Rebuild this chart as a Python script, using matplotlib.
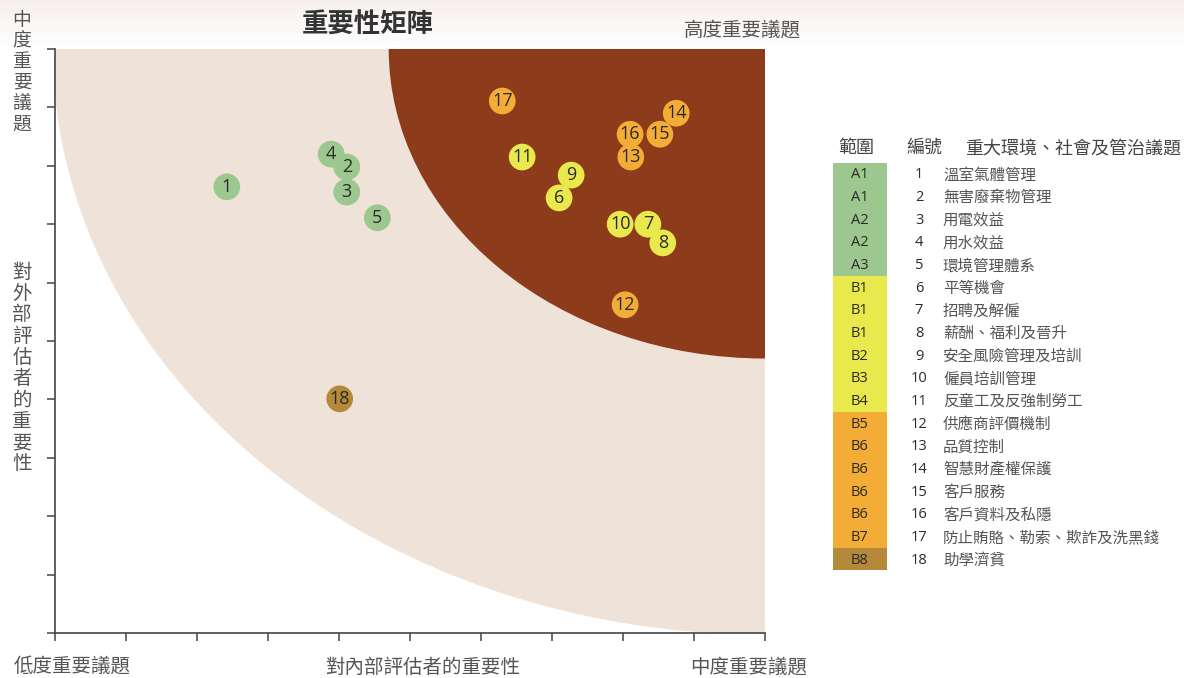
import matplotlib
matplotlib.use("Agg")
import matplotlib.pyplot as plt
from matplotlib.patches import Circle, Rectangle
import numpy as np

plt.rcParams['font.family'] = ['Noto Sans CJK TC', 'DejaVu Sans']

# ---- data ----
ids = [1, 2, 3, 4, 5, 6, 7, 8, 9, 10, 11, 12, 13, 14, 15, 16, 17, 18]
x_internal = [2.42, 4.11, 4.11, 3.89, 4.54, 7.10, 8.35, 8.56, 7.27, 7.96, 6.58, 8.03, 8.11, 8.75, 8.52, 8.10, 6.30, 4.01]
y_external = [7.64, 7.98, 7.55, 8.20, 7.11, 7.45, 7.00, 6.68, 7.84, 7.00, 8.15, 5.62, 8.15, 8.90, 8.54, 8.54, 9.11, 4.01]
scopes = ['A1', 'A1', 'A2', 'A2', 'A3', 'B1', 'B1', 'B1', 'B2', 'B3', 'B4',
          'B5', 'B6', 'B6', 'B6', 'B6', 'B7', 'B8']
groups = ['env', 'env', 'env', 'env', 'env', 'emp', 'emp', 'emp', 'emp', 'emp', 'emp',
          'op', 'op', 'op', 'op', 'op', 'op', 'com']
topics = ['溫室氣體管理', '無害廢棄物管理', '用電效益', '用水效益', '環境管理體系',
          '平等機會', '招聘及解僱', '薪酬、福利及晉升', '安全風險管理及培訓', '僱員培訓管理',
          '反童工及反強制勞工', '供應商評價機制', '品質控制', '智慧財產權保護', '客戶服務',
          '客戶資料及私隱', '防止賄賂、勒索、欺詐及洗黑錢', '助學濟貧']
headers = ['範圍', '編號', '重大環境、社會及管治議題']
title = '重要性矩陣'
x_label = '對內部評估者的重要性'
y_label = '對外部評估者的重要性'
low_label = '低度重要議題'
mid_label = '中度重要議題'
high_label = '高度重要議題'

group_colors = {'env': '#9cc78e', 'emp': '#e9e84c', 'op': '#f3ad37', 'com': '#b5893a'}
light_zone = '#efe3d9'
dark_zone = '#8c3b1b'

W, H = 1184, 678
fig = plt.figure(figsize=(W / 100, H / 100), dpi=100)
fig.patch.set_facecolor('white')

# faint top gradient
gax = fig.add_axes([0, 1 - 48 / H, 1, 48 / H], zorder=-5)
grad = np.linspace(0, 1, 60)[:, None]
top_col = np.array([246, 240, 237]) / 255
img = top_col[None, None, :] * (1 - grad[:, :, None]) + np.ones(3)[None, None, :] * grad[:, :, None]
img = np.repeat(img, 4, axis=1)
gax.imshow(img, aspect='auto', extent=[0, 1, 1, 0])
gax.axis('off')

# main axes
L, R, T, B = 55, 765, 49, 633
ax = fig.add_axes([L / W, 1 - B / H, (R - L) / W, (B - T) / H])
ax.set_xlim(0, 10)
ax.set_ylim(0, 10)
ax.set_facecolor('none')

ax.add_patch(Circle((10, 10), 10.03, facecolor=light_zone, edgecolor='none', zorder=0))
ax.add_patch(Circle((10, 10), 5.3, facecolor=dark_zone, edgecolor='none', zorder=1))

cols = [group_colors[g] for g in groups]
ax.scatter(x_internal, y_external, s=370, c=cols, edgecolors='none', zorder=3)
for i, xi, yi in zip(ids, x_internal, y_external):
    ax.text(xi, yi, str(i), ha='center', va='center', fontsize=13, color='#2a2a2a',
            family=['Open Sans', 'DejaVu Sans'], zorder=4)

for s in ['top', 'right']:
    ax.spines[s].set_visible(False)
for s in ['left', 'bottom']:
    ax.spines[s].set_color('#444444')
    ax.spines[s].set_linewidth(1.2)
ax.set_xticks(range(0, 11))
ax.set_yticks(range(0, 11))
ax.set_xticklabels([])
ax.set_yticklabels([])
ax.tick_params(length=6, width=1.1, color='#444444', direction='out')

# titles / axis labels
fig.text(368 / W, 1 - 25 / H, title, ha='center', va='center', fontsize=19,
         fontweight='bold', color='#333333')
fig.text(742 / W, 1 - 30 / H, high_label, ha='center', va='center', fontsize=14, color='#555555')
fig.text(72 / W, 1 - 667 / H, low_label, ha='center', va='center', fontsize=14, color='#555555')
fig.text(423 / W, 1 - 667 / H, x_label, ha='center', va='center', fontsize=14, color='#555555')
fig.text(749 / W, 1 - 667 / H, mid_label, ha='center', va='center', fontsize=14, color='#555555')
fig.text(22 / W, 1 - 72 / H, '\n'.join(mid_label), ha='center', va='center', fontsize=13.5,
         color='#555555', linespacing=0.98)
fig.text(22 / W, 1 - 368 / H, '\n'.join(y_label), ha='center', va='center', fontsize=14,
         color='#555555', linespacing=1.02)

# legend table
lax = fig.add_axes([0, 0, 1, 1], zorder=5)
lax.set_xlim(0, W)
lax.set_ylim(H, 0)
lax.axis('off')
lax.text(856, 148, headers[0], ha='center', va='center', fontsize=13, color='#444444')
lax.text(924, 148, headers[1], ha='center', va='center', fontsize=13, color='#444444')
lax.text(965, 148, headers[2], ha='left', va='center', fontsize=13, color='#444444')
row0, dy = 175, 22.65
for k, (sc, g, i, tp) in enumerate(zip(scopes, groups, ids, topics)):
    yc = row0 + k * dy
    lax.add_patch(Rectangle((833, yc - dy / 2 - 1), 54, dy, facecolor=group_colors[g],
                            edgecolor='none'))
    lax.text(860, yc, sc, ha='center', va='center', fontsize=10.5, color='#2a2a2a',
             family=['Open Sans', 'DejaVu Sans'])
    lax.text(919, yc, str(i), ha='center', va='center', fontsize=10.5, color='#2a2a2a',
             family=['Open Sans', 'DejaVu Sans'])
    lax.text(943, yc, tp, ha='left', va='center', fontsize=11.2, color='#555555')

fig.savefig('out.png', dpi=100)
